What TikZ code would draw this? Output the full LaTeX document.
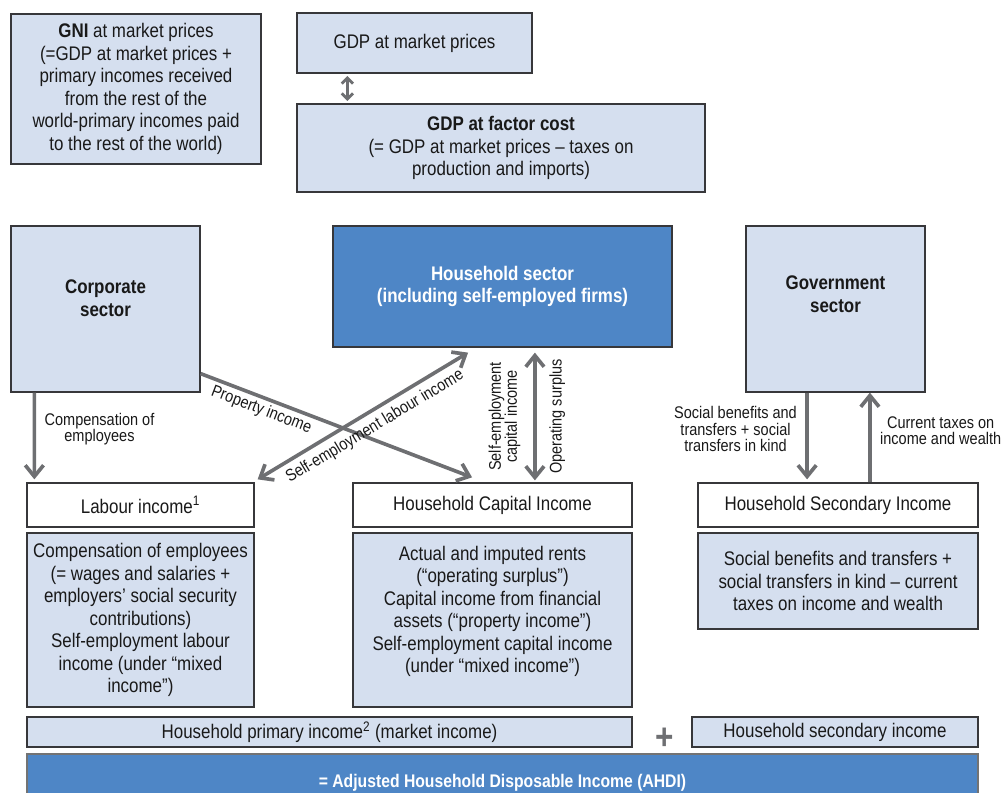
\documentclass[tikz,border=0pt]{standalone}
\usepackage{fontspec}
\setmainfont{Liberation Sans}[FakeStretch=0.86]
\usepackage{tikz}
\usetikzlibrary{arrows.meta}
\definecolor{boxfill}{RGB}{213, 223, 239}
\definecolor{boxline}{RGB}{55, 55, 58}
\definecolor{hhblue}{RGB}{78, 134, 198}
\definecolor{flowgray}{RGB}{110, 111, 114}
\newcommand{\bodyfont}{\fontsize{14}{16}\selectfont}
\newcommand{\lblfont}{\fontsize{12}{11.5}\selectfont}
\def\pxu{0.025cm}

\begin{document}
\begin{tikzpicture}[x=0.025cm, y=-0.025cm,
      lbox/.style={draw=boxline, fill=boxfill, line width=0.9pt,
                   align=center, inner sep=0pt, font=\bodyfont,
                   text=black!90},
      wbox/.style={lbox, fill=white},
      hbox/.style={lbox, fill=hhblue, text=white, font=\bodyfont\bfseries},
      txt/.style={align=center, font=\bodyfont, text=black!90},
      flow/.style={draw=flowgray, line width=2.6pt},
      flowlbl/.style={font=\lblfont, align=center, inner sep=1pt,
                      text=black!90},
      >={Straight Barb[length=8pt, width=13pt]},
    ]
    \useasboundingbox (0,0) rectangle (1003,793);
    %% top: national accounts
    \node[lbox, minimum width=250*\pxu, minimum height=150*\pxu] (gni) at (136,89)
      {\textbf{GNI} at market prices\\(=GDP at market prices +\\primary incomes received\\from the rest of the\\world-primary incomes paid\\to the rest of the world)};
    \node[lbox, minimum width=235*\pxu, minimum height=60*\pxu] (gdpm) at (414.5,43)
      {GDP at market prices};
    \node[lbox, minimum width=408*\pxu, minimum height=88*\pxu] (gdpf) at (501,148)
      {\textbf{GDP at factor cost}\\(= GDP at market prices -- taxes on\\production and imports)};
    \draw[draw=flowgray, line width=2pt,
          {Straight Barb[length=4pt, width=8pt]}-{Straight Barb[length=4pt, width=8pt]}]
      ([xshift=1.275cm, yshift=-0.06cm]gdpm.south west) -- ([xshift=1.275cm, yshift=0.06cm]gdpf.north west);
    %% sectors
    \node[lbox, minimum width=189*\pxu, minimum height=166*\pxu,
          label={[txt, font=\bodyfont\bfseries, yshift=0.275cm]center:Corporate\\sector}] (corp) at (105.5,309) {};
    \node[hbox, minimum width=339*\pxu, minimum height=121*\pxu] (hh) at (502.5,286.5)
      {Household sector\\(including self-employed firms)};
    \node[lbox, minimum width=179*\pxu, minimum height=166*\pxu,
          label={[txt, font=\bodyfont\bfseries, yshift=0.375cm]center:Government\\sector}] (gov) at (835.5,309) {};
    %% income headings
    \node[wbox, minimum width=227*\pxu, minimum height=44*\pxu] (labi) at (140.5,505)
      {Labour income\textsuperscript{1}};
    \node[wbox, minimum width=279*\pxu, minimum height=44*\pxu] (capi) at (492.5,505)
      {Household Capital Income};
    \node[wbox, minimum width=280*\pxu, minimum height=44*\pxu] (seci) at (838,505)
      {Household Secondary Income};
    %% income details
    \node[lbox, minimum width=227*\pxu, minimum height=174*\pxu] (labd) at (140.5,620)
      {Compensation of employees\\(= wages and salaries +\\employers’ social security\\contributions)\\Self-employment labour\\income (under “mixed\\income”)};
    \node[lbox, minimum width=279*\pxu, minimum height=174*\pxu,
          label={[txt, yshift=0.21cm]center:Actual and imputed rents\\(“operating surplus”)\\Capital income from financial\\assets (“property income”)\\Self-employment capital income\\(under “mixed income”)}] (capd) at (492.5,620) {};
    \node[lbox, minimum width=280*\pxu, minimum height=96*\pxu] (secd) at (838,581)
      {Social benefits and transfers +\\social transfers in kind -- current\\taxes on income and wealth};
    %% totals
    \node[lbox, minimum width=605*\pxu, minimum height=30*\pxu] (prim) at (329.5,732)
      {Household primary income\textsuperscript{2} (market income)};
    \node[text=flowgray, font=\fontsize{26}{26}\selectfont\bfseries, inner sep=0pt] (plus) at (665,739) {+};
    \node[lbox, minimum width=286*\pxu, minimum height=30*\pxu] (secb) at (835,732)
      {Household secondary income};
    \node[hbox, draw=black!55, minimum width=951*\pxu, minimum height=58*\pxu, font=\fontsize{13}{15}\selectfont\bfseries] (ahdi) at (502.5,783)
      {= Adjusted Household Disposable Income (AHDI)};
    %% flows
    \draw[flow, ->] ([xshift=0.6cm]corp.south west) -- ([xshift=0.2cm, yshift=0.075cm]labi.north west)
      node[flowlbl, right=5pt, pos=0.42] {Compensation of\\employees};
    \draw[flow, ->] ([yshift=0.475cm]corp.south east) -- ([xshift=-0.51cm, yshift=0.125cm]capi.north)
      node[flowlbl, sloped, below=1pt, pos=0.24] {Property income};
    \draw[flow, <->] ([xshift=0.075cm, yshift=0.075cm]labi.north east) -- ([xshift=-0.86cm, yshift=-0.125cm]hh.south)
      node[flowlbl, sloped, below=3pt, pos=0.52] {Self-employment labour income};
    \draw[flow, <->] ([xshift=0.81cm, yshift=0.05cm]hh.south |- capi.north) -- ([xshift=0.81cm, yshift=-0.125cm]hh.south)
      node[flowlbl, sloped, above=8pt, midway] {Self-employment\\capital income}
      node[flowlbl, sloped, below=8pt, midway] {Operating surplus};
    \draw[flow, ->] ([xshift=-0.71cm]gov.south) -- ([xshift=-0.71cm, yshift=0.075cm]gov.south |- seci.north)
      node[flowlbl, left=5pt, pos=0.42] {Social benefits and\\transfers + social\\transfers in kind};
    \draw[flow, ->] ([xshift=0.86cm]gov.south |- seci.north) -- ([xshift=0.86cm]gov.south)
      node[flowlbl, right=5pt, pos=0.58] {Current taxes on\\income and wealth};
    \end{tikzpicture}
\end{document}
